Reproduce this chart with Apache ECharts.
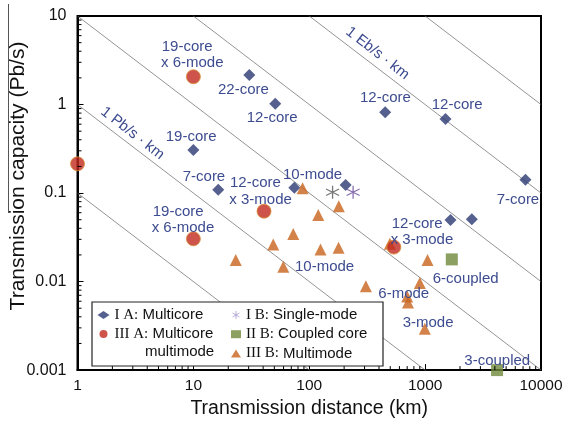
<!DOCTYPE html>
<html><head><meta charset="utf-8">
<script src="https://cdn.jsdelivr.net/npm/echarts@6/dist/echarts.min.js"></script>
<style>html,body{margin:0;padding:0;background:#fff}#c{width:568px;height:424px}</style>
</head><body><div id="c"></div>
<script>
// ---- data (distance km, capacity Pb/s) ----
var multicoreX = [30.4, 50.9, 10, 16.4, 74.3, 206, 452, 1500, 7340, 1656, 2528];
var multicoreY = [2.15, 1.02, 0.306, 0.109, 0.115, 0.123, 0.818, 0.688, 0.141, 0.0497, 0.0507];
var mcmmX = [1, 10, 40.7, 10, 537];
var mcmmY = [0.214, 2.06, 0.0624, 0.0304, 0.0245];
var singleX = [159, 239];
var singleY = [0.102, 0.102];
var coupledX = [1699, 4177];
var coupledY = [0.0178, 0.001];
var multimodeX = [72.8, 48.9, 23.2, 59.7, 87.7, 180, 119.6, 125, 179, 496, 1049, 308, 900, 700, 712, 994];
var multimodeY = [0.0344, 0.0262, 0.0175, 0.0147, 0.113, 0.0709, 0.0564, 0.0231, 0.0241, 0.0267, 0.0175, 0.00887, 0.00965, 0.0068, 0.0058, 0.00294];
// capacity-distance product guide lines (Pb/s·km)
var guideProducts = [0.1, 1, 10, 100, 1000, 10000];
var xTickLabels = ['1', '10', '100', '1000', '10000'];
var yTickLabels = ['0.001', '0.01', '0.1', '1', '10'];
var seriesNames = ['I A: Multicore', 'III A: Multicore multimode', 'I B: Single-mode', 'II B: Coupled core', 'III B: Multimode'];
var legendParts = {
  'I A: Multicore': ['I A:', 'Multicore'],
  'III A: Multicore multimode': ['III A:', 'Multicore'],
  'I B: Single-mode': ['I B:', 'Single-mode'],
  'II B: Coupled core': ['II B:', 'Coupled core'],
  'III B: Multimode': ['III B:', 'Multimode']
};
// annotation labels [text, left, centerY]
var annotations = [
  ['19-core', 161.7, 46.7], ['x 6-mode', 161, 62.7],
  ['22-core', 218, 90],
  ['12-core', 246.7, 118.3],
  ['19-core', 165.7, 136.7],
  ['7-core', 182.7, 177],
  ['12-core', 230, 183.3], ['x 3-mode', 229.3, 200],
  ['10-mode', 283, 175],
  ['19-core', 152.7, 212.3], ['x 6-mode', 151.7, 228.3],
  ['12-core', 360, 98.3],
  ['12-core', 431.7, 105],
  ['7-core', 496.7, 200],
  ['12-core', 391.7, 224], ['x 3-mode', 390.7, 240],
  ['10-mode', 295, 267.3],
  ['6-coupled', 432.7, 279.3],
  ['6-mode', 378.3, 294.3],
  ['3-mode', 402.7, 323.3],
  ['3-coupled', 464.3, 360.7]
];

function zip(xs, ys) { return xs.map(function (x, i) { return [x, ys[i]]; }); }

var minorTicks = [];
[1, 10, 100, 1000].forEach(function (d) { for (var k = 2; k <= 9; k++) minorTicks.push([k * d, 0.001, 0]); });
[0.001, 0.01, 0.1, 1].forEach(function (d) { for (var k = 2; k <= 9; k++) minorTicks.push([1, k * d, 1]); });

var SANS = "'Liberation Sans', Arial, sans-serif";
var SERIF = "'Liberation Serif', 'Times New Roman', serif";
var labelColor = '#3d4c90';

var series = [];
guideProducts.forEach(function (p) {
  series.push({
    type: 'line', data: [[1, p], [10000, p / 10000]], symbol: 'none', silent: true, z: 1,
    lineStyle: { color: '#666', width: 0.7 }, clip: true, animation: false
  });
});
series.push({
  name: seriesNames[0], type: 'scatter', data: zip(multicoreX, multicoreY), symbol: 'diamond', symbolSize: 12,
  itemStyle: { color: '#2a3872' }, clip: false, z: 3
});
series.push({
  name: seriesNames[4], type: 'scatter', data: zip(multimodeX, multimodeY), symbol: 'triangle', symbolSize: [12, 12],
  itemStyle: { color: '#c8641c' }, clip: false, z: 3
});
series.push({
  name: seriesNames[1], type: 'scatter', data: zip(mcmmX, mcmmY), symbol: 'circle', symbolSize: 14,
  itemStyle: { color: '#c0281e', borderColor: '#d9903a', borderWidth: 1 }, clip: false, z: 3
});
series.push({
  name: seriesNames[2], type: 'scatter',
  data: [
    { value: [singleX[0], singleY[0]], itemStyle: { borderColor: '#555555' } },
    { value: [singleX[1], singleY[1]], itemStyle: { borderColor: '#6a4c9c' } }
  ],
  symbol: 'path://M0,-10L0,10M-8.66,-5L8.66,5M-8.66,5L8.66,-5', symbolSize: 13,
  itemStyle: { color: 'rgba(0,0,0,0)', borderColor: '#a99cd2', borderWidth: 1.3 }, clip: false, z: 3
});
series.push({
  name: seriesNames[3], type: 'scatter', data: zip(coupledX, coupledY), symbol: 'rect', symbolSize: 12,
  itemStyle: { color: '#6f8a3a' }, clip: false, z: 3
});
series.push({
  type: 'custom', data: minorTicks, silent: true, z: 4, clip: false,
  renderItem: function (params, api) {
    var p = api.coord([api.value(0), api.value(1)]);
    if (api.value(2) === 0) {
      return { type: 'line', shape: { x1: p[0], y1: p[1], x2: p[0], y2: p[1] - 4 }, style: { stroke: '#000', lineWidth: 1 } };
    }
    return { type: 'line', shape: { x1: p[0], y1: p[1], x2: p[0] + 4, y2: p[1] }, style: { stroke: '#000', lineWidth: 1 } };
  }
});

var legendCommon = {
  orient: 'vertical', selectedMode: false, itemHeight: 8, itemGap: 3, padding: 0,
  textStyle: { fontFamily: SANS, fontSize: 15, lineHeight: 16, color: '#111',
    rich: {
      r: { fontFamily: SERIF, fontSize: 15, lineHeight: 16, color: '#111' },
      s: { fontFamily: SANS, fontSize: 15, lineHeight: 16, color: '#111' }
    } },
  formatter: function (name) { var m = legendParts[name]; return '{r|' + m[0] + '} {s|' + m[1] + '}'; }
};

var graphics = [
  { type: 'rect', z: 3, shape: { x: 92, y: 302, width: 291, height: 64 }, style: { fill: '#fff', stroke: '#222', lineWidth: 1.2 } },
  { type: 'text', z: 5, x: 145, y: 351.7, style: { text: 'multimode', font: '15px ' + SANS, fill: '#111', align: 'left', verticalAlign: 'middle' } },
  { type: 'text', z: 5, x: 132.5, y: 133.3, rotation: -0.661, style: { text: '1 Pb/s · km', font: '15px ' + SANS, fill: labelColor, align: 'center', verticalAlign: 'middle' } },
  { type: 'text', z: 5, x: 377.5, y: 53.3, rotation: -0.661, style: { text: '1 Eb/s · km', font: '15px ' + SANS, fill: labelColor, align: 'center', verticalAlign: 'middle' } },
  { type: 'text', z: 5, x: 18, y: 176, rotation: Math.PI / 2, style: { text: 'Transmission capacity (Pb/s)', font: '21px ' + SANS, fill: '#111', align: 'center', verticalAlign: 'middle' } },
  { type: 'line', z: 5, shape: { x1: 8.5, y1: 4, x2: 8.5, y2: 213 }, style: { stroke: '#555', lineWidth: 1 } }
];
annotations.forEach(function (a) {
  graphics.push({ type: 'text', z: 5, x: a[1], y: a[2], style: { text: a[0], font: '15px ' + SANS, fill: labelColor, align: 'left', verticalAlign: 'middle' } });
});

var chart = echarts.init(document.getElementById('c'), null, { renderer: 'canvas' });
chart.setOption({
  animation: false,
  backgroundColor: '#fff',
  grid: { left: 77.5, right: 27, top: 16, bottom: 47.5, show: true, borderColor: '#000', borderWidth: 2, backgroundColor: 'transparent' },
  xAxis: {
    type: 'log', logBase: 10, min: 1, max: 10000,
    name: 'Transmission distance (km)', nameLocation: 'middle', nameGap: 26,
    nameTextStyle: { fontFamily: SANS, fontSize: 19.5, color: '#111' },
    axisLine: { show: true, lineStyle: { color: '#000', width: 2 } },
    axisTick: { show: true, inside: true, length: 6, lineStyle: { color: '#000', width: 1 } },
    axisLabel: { fontFamily: SANS, fontSize: 15.5, color: '#111', margin: 8,
      formatter: function (v) { var i = Math.round(Math.log10(v)); return xTickLabels[i] || ''; } },
    splitLine: { show: false }, minorTick: { show: false }
  },
  yAxis: {
    type: 'log', logBase: 10, min: 0.001, max: 10,
    axisLine: { show: true, lineStyle: { color: '#000', width: 2 } },
    axisTick: { show: true, inside: true, length: 6, lineStyle: { color: '#000', width: 1 } },
    axisLabel: { fontFamily: SANS, fontSize: 16, color: '#111', margin: 11,
      formatter: function (v) { var i = Math.round(Math.log10(v)) + 3; return yTickLabels[i] || ''; } },
    splitLine: { show: false }, minorTick: { show: false }
  },
  legend: [
    Object.assign({}, legendCommon, { left: 97.5, top: 307, itemWidth: 12,
      data: [seriesNames[0], { name: seriesNames[1], itemStyle: { borderWidth: 0 } }] }),
    Object.assign({}, legendCommon, { left: 231, top: 307, itemWidth: 10, itemGap: 3.2,
      data: [{ name: seriesNames[2], itemStyle: { borderWidth: 1, borderColor: '#a99cd2' } }, seriesNames[3], seriesNames[4]] })
  ],
  graphic: { elements: graphics },
  series: series
});
</script></body></html>
